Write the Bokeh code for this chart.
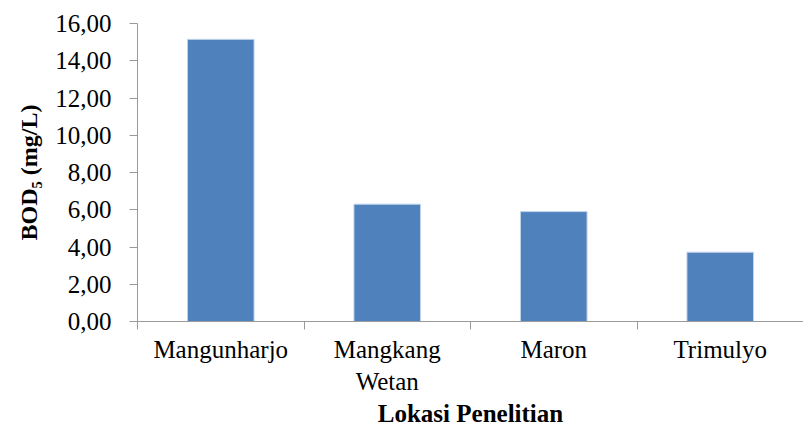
from bokeh.plotting import figure
from bokeh.models import Range1d, LinearAxis, FixedTicker
from bokeh.embed import file_html
from bokeh.resources import INLINE

categories = ["Mangunharjo", "Mangkang\nWetan", "Maron", "Trimulyo"]
bod5 = [15.15, 6.30, 5.90, 3.72]
y_ticks = [0, 2, 4, 6, 8, 10, 12, 14, 16]
y_tick_labels = ["0,00", "2,00", "4,00", "6,00", "8,00", "10,00", "12,00", "14,00", "16,00"]

FONT = "'Liberation Serif', 'Times New Roman', serif"
AXIS_COLOR = "#9a9a9a"

n = len(categories)
centers = [i + 0.5 for i in range(n)]
bounds = list(range(n + 1))

p = figure(width=803, height=429, output_backend="svg", toolbar_location=None,
           x_range=Range1d(0, n), y_range=Range1d(0, 16),
           x_axis_type=None, y_axis_type=None,
           min_border_left=137, min_border_right=0, min_border_top=23, min_border_bottom=105)
p.outline_line_color = None
p.xgrid.visible = False
p.ygrid.visible = False
p.background_fill_color = "white"
p.border_fill_color = "white"

p.vbar(x=centers, top=bod5, width=0.4, fill_color="#4f81bd", line_color="#c3d5ec", line_width=1)

# y axis
yax = LinearAxis(ticker=FixedTicker(ticks=y_ticks),
                 major_label_overrides={t: l for t, l in zip(y_ticks, y_tick_labels)})
yax.axis_label = "BOD\u2085 (mg/L)"
yax.axis_label_text_font = FONT
yax.axis_label_text_font_style = "bold"
yax.axis_label_text_font_size = "24px"
yax.axis_label_text_color = "black"
yax.axis_label_standoff = 10
yax.major_label_text_font = FONT
yax.major_label_text_font_size = "25px"
yax.major_label_text_color = "black"
yax.major_label_standoff = 18
yax.major_tick_out = 8
yax.major_tick_in = 0
yax.minor_tick_out = 0
yax.minor_tick_in = 0
yax.axis_line_color = AXIS_COLOR
yax.major_tick_line_color = AXIS_COLOR
p.add_layout(yax, "left")

# x axis: tick marks at category boundaries
xtick = LinearAxis(ticker=FixedTicker(ticks=bounds),
                   major_label_overrides={b: "" for b in bounds})
xtick.major_label_text_font_size = "0px"
xtick.major_label_standoff = 0
xtick.major_tick_out = 8
xtick.major_tick_in = 0
xtick.minor_tick_out = 0
xtick.axis_line_color = AXIS_COLOR
xtick.major_tick_line_color = AXIS_COLOR
p.add_layout(xtick, "below")

# x axis: category labels
xlab = LinearAxis(ticker=FixedTicker(ticks=centers),
                  major_label_overrides={c: name for c, name in zip(centers, categories)})
xlab.axis_line_color = None
xlab.major_tick_line_color = None
xlab.minor_tick_line_color = None
xlab.major_tick_out = 0
xlab.major_tick_in = 0
xlab.major_label_text_font = FONT
xlab.major_label_text_font_size = "25px"
xlab.major_label_text_color = "black"
xlab.major_label_standoff = 6
xlab.axis_label = "Lokasi Penelitian"
xlab.axis_label_text_font = FONT
xlab.axis_label_text_font_style = "bold"
xlab.axis_label_text_font_size = "25px"
xlab.axis_label_text_color = "black"
xlab.axis_label_standoff = 2
p.add_layout(xlab, "below")

open("out.html", "w").write(file_html(p, INLINE))
